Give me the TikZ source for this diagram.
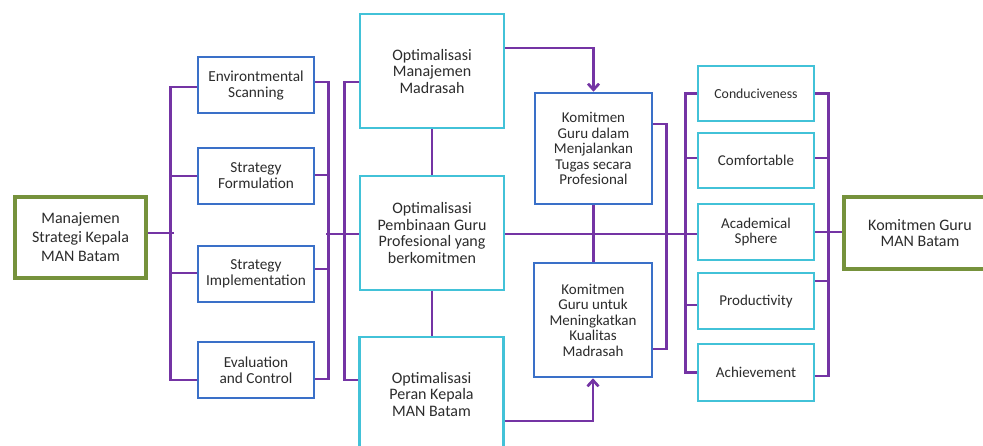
\documentclass[tikz,border=0pt]{standalone}
\usepackage{fontspec}
\setmainfont{Carlito}
\usetikzlibrary{arrows.meta}
\definecolor{purp}{HTML}{7434A4}
\definecolor{bluec}{HTML}{3A70C8}
\definecolor{cyanc}{HTML}{42C2D8}
\definecolor{greenc}{HTML}{76923C}
\definecolor{txt}{HTML}{2C2C2C}
\tikzset{
  x=1pt,y=-1pt,
  base/.style={rectangle,fill=white,align=center,inner sep=0pt,text=txt},
  greenbox/.style={base,draw=greenc,line width=4.5pt},
  bluebox/.style={base,draw=bluec,line width=2.6pt},
  cyanbox/.style={base,draw=cyanc,line width=2.6pt},
  conn/.style={draw=purp,line width=2.7pt},
  arr/.style={conn,-{Straight Barb[length=6pt,width=11pt]}},
}
\begin{document}
\begin{tikzpicture}
\useasboundingbox (0,0) rectangle (983,445);
\clip (0,0) rectangle (983,445);
% left green
\node[greenbox,minimum width=131pt,minimum height=81pt,font=\fontsize{16}{19}\selectfont] (lg) at (80.5,237.5) {Manajemen\\Strategi Kepala\\MAN Batam};
% left blue boxes
\begin{scope}[every node/.style={bluebox,minimum width=116pt,minimum height=56pt,font=\fontsize{15.3}{16}\selectfont}]
\node (env) at (256,85) {Environtmental\\Scanning};
\node (form) at (256,176) {Strategy\\Formulation};
\node (impl) at (256,274) {Strategy\\Implementation};
\node (eval) at (256,370) {Evaluation\\and Control};
\end{scope}
% middle cyan boxes
\begin{scope}[every node/.style={cyanbox,minimum width=144pt,minimum height=114pt,font=\fontsize{16}{16.5}\selectfont}]
\node (c1) at (432,71) {Optimalisasi\\Manajemen\\Madrasah};
\node (c2) at (432,233) {Optimalisasi\\Pembinaan Guru\\Profesional yang\\berkomitmen};
\node (c3) at (431.5,394) {Optimalisasi\\Peran Kepala\\MAN Batam};
\end{scope}
% middle blue boxes
\begin{scope}[every node/.style={bluebox,font=\fontsize{15}{15.5}\selectfont}]
\node[minimum width=117pt,minimum height=111pt] (b1) at (593.5,148.5) {Komitmen\\Guru dalam\\Menjalankan\\Tugas secara\\Profesional};
\node[minimum width=118pt,minimum height=114pt] (b2) at (593,320) {Komitmen\\Guru untuk\\Meningkatkan\\Kualitas\\Madrasah};
\end{scope}
% right cyan boxes
\begin{scope}[every node/.style={cyanbox,minimum width=116pt,minimum height=55pt,font=\fontsize{15}{14.5}\selectfont}]
\node[font=\fontsize{13.8}{14}\selectfont] (cond) at (756,93.5) {Conduciveness};
\node (comf) at (756,160.5) {Comfortable};
\node[minimum height=56pt] (acad) at (756,232) {Academical\\Sphere};
\node[minimum height=56pt] (prod) at (756,301) {Productivity};
\node[minimum height=57pt] (ach) at (756,372.5) {Achievement};
\end{scope}
% right green
\node[greenbox,minimum width=152pt,minimum height=72pt,font=\fontsize{16}{15.5}\selectfont] (rg) at (920,233) {Komitmen Guru\\MAN Batam};
% connectors left
\draw[conn] ([yshift=-2pt]env.west) -- ++(-26,0) |- ([yshift=-10pt]eval.west);
\draw[conn] (form.west) -- ++(-26,0);
\draw[conn] ([yshift=1pt]impl.west) -- ++(-26,0);
\draw[conn] ([yshift=4.5pt]lg.east) -- ++(26,0);
\draw[conn] ([yshift=3pt]env.east) -- ++(13,0) |- ([yshift=-9pt]eval.east);
\draw[conn] ([yshift=1pt]form.east) -- ++(13,0);
\draw[conn] ([yshift=5pt]impl.east) -- ++(13,0);
\draw[conn] ([yshift=-1pt]c2.west) -- ++(-33,0);
\draw[conn] ([yshift=-11pt]c1.west) -- ++(-14,0) |- ([yshift=14pt]c3.west);
\draw[conn] (c1.south) -- (c1.south |- c2.north);
\draw[conn] (c2.south) -- (c2.south |- c3.north);
\draw[arr] ([yshift=23pt]c1.east) -| (b1.north);
\draw[arr] ([yshift=-27pt]c3.east) -| (b2.south);
\draw[conn] (b1.south) -- (b1.south |- b2.north);
\draw[conn] ([yshift=-1pt]c2.east) -- ([yshift=-1pt]c2.east -| acad.west);
\draw[conn] ([yshift=24.5pt]b1.east) -- ++(13,0) |- ([yshift=-29pt]b2.east);
% right brackets
\draw[conn] (cond.west) -- ++(-11,0) |- (ach.west);
\draw[conn] ([yshift=2.5pt]comf.west) -- ++(-11,0);
\draw[conn] ([yshift=-4pt]prod.west) -- ++(-11,0);
\draw[conn] (cond.east) -- ++(13,0) |- ([yshift=-3.5pt]ach.east);
\draw[conn] ([yshift=2.5pt]comf.east) -- ++(13,0);
\draw[conn] ([yshift=20pt]prod.east) -- ++(13,0);
\draw[conn] (acad.east) -- (acad.east -| rg.west);
\end{tikzpicture}
\end{document}
